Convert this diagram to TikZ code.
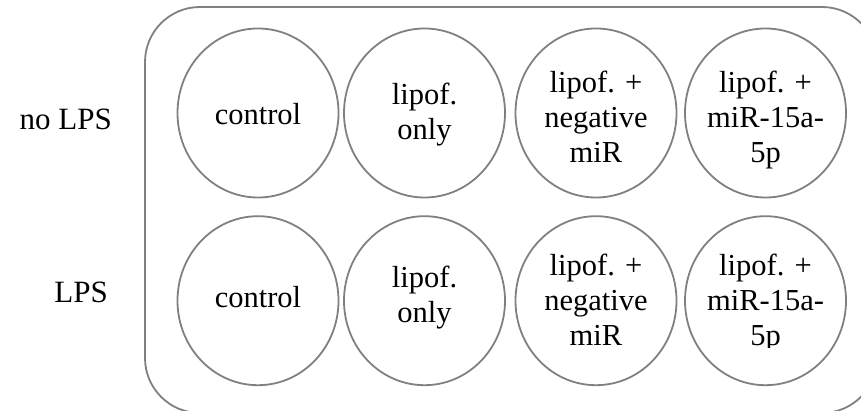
\documentclass[tikz,border=0pt]{standalone}
\usepackage{fontspec}
\setmainfont{Liberation Serif}
\usetikzlibrary{shapes.geometric}
\definecolor{rimgray}{RGB}{128,128,128}
\tikzset{
  well/.style={ellipse, draw=rimgray, line width=1.8pt,
    minimum width=161pt, minimum height=169pt, inner sep=0pt},
  welltext/.style={align=center, font=\fontsize{30.5}{35}\selectfont,
    inner sep=0pt, anchor=base},
  rowlabel/.style={font=\fontsize{31}{35}\selectfont, inner sep=0pt, anchor=base east},
  plate/.style={draw=rimgray, line width=1.8pt, rounded corners=55pt}
}
\begin{document}
\begin{tikzpicture}[x=1pt, y=-1pt]
  \useasboundingbox (0,0) rectangle (861,411);
  \clip (0,0) rectangle (861,411);
  % plate outline
  \draw[plate] (145,7) rectangle (877,413);
  % row labels
  \node[rowlabel] (noLPS) at (112,130) {no LPS};
  \node[rowlabel] (LPS) at (108,302) {LPS};
  % wells, top row
  \node[well] (a1) at (258,113) {};
  \node[well] (a2) at (424.5,113) {};
  \node[well] (a3) at (596,113) {};
  \node[well] (a4) at (765.5,113) {};
  % wells, bottom row
  \node[well] (b1) at (258,300.7) {};
  \node[well] (b2) at (424.5,300.7) {};
  \node[well] (b3) at (596,300.7) {};
  \node[well] (b4) at (765.5,300.7) {};
  % well contents (placed by the baseline of their last line)
  \node[welltext] (ta1) at ([yshift=-12pt]a1.center) {control};
  \node[welltext] (ta2) at ([yshift=-27pt]a2.center) {lipof.\\only};
  \node[welltext] (ta3) at ([yshift=-50pt]a3.center) {lipof. +\\negative\\miR};
  \node[welltext] (ta4) at ([yshift=-50pt]a4.center) {lipof. +\\miR-15a-\\5p};
  \node[welltext] (tb1) at ([yshift=-7pt]b1.center) {control};
  \node[welltext] (tb2) at ([yshift=-22pt]b2.center) {lipof.\\only};
  \begin{scope}
    \clip (500,200) rectangle (861,347.5);
    \node[welltext] (tb3) at ([yshift=-45pt]b3.center) {lipof. +\\negative\\miR};
    \node[welltext] (tb4) at ([yshift=-45pt]b4.center) {lipof. +\\miR-15a-\\5p};
  \end{scope}
\end{tikzpicture}
\end{document}
